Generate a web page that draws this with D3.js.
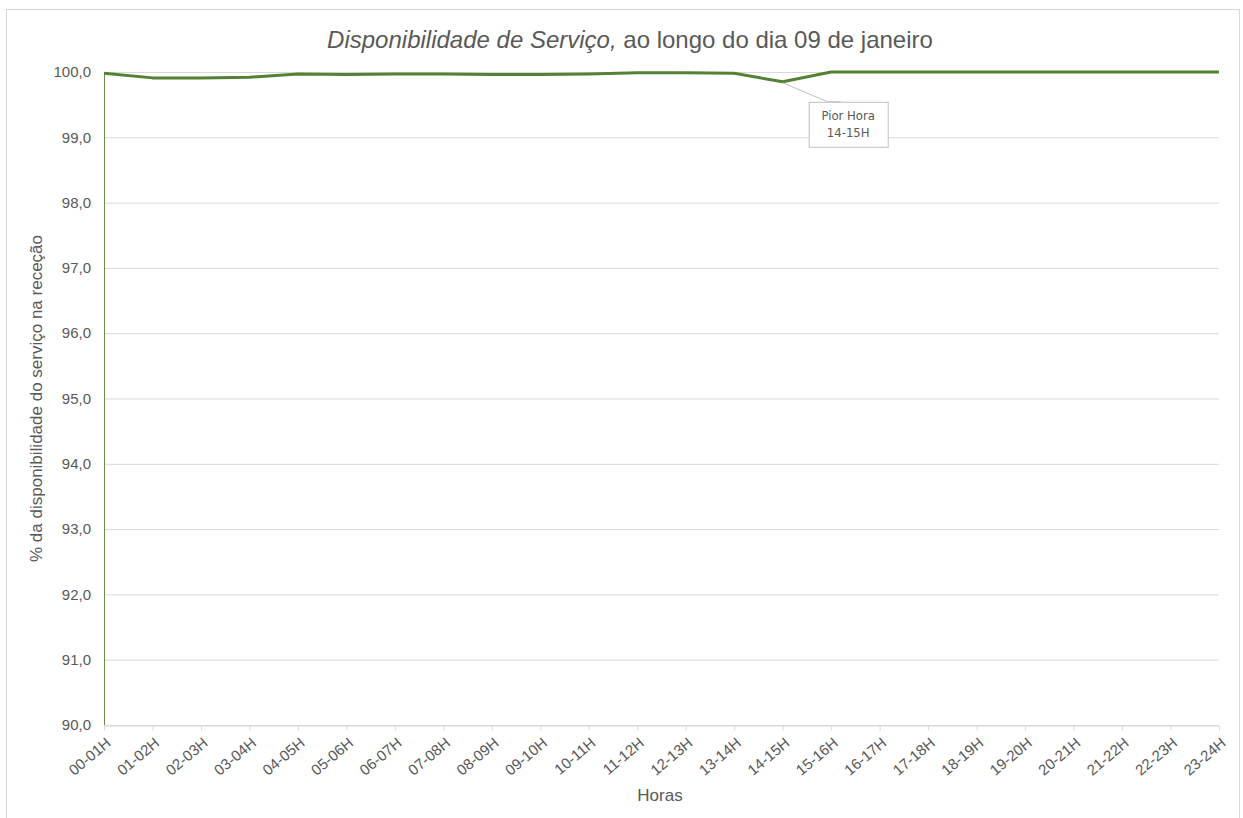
<!DOCTYPE html>
<html>
<head>
<meta charset="utf-8">
<script src="https://cdn.jsdelivr.net/npm/d3@7"></script>
<style>
  body { margin: 0; background: #fff; }
  text { font-family: Arial, "Liberation Sans", sans-serif; fill: #595959; }
</style>
</head>
<body>
<svg id="chart"></svg>
<script>
// Data
const hours = ["00-01H","01-02H","02-03H","03-04H","04-05H","05-06H","06-07H","07-08H",
  "08-09H","09-10H","10-11H","11-12H","12-13H","13-14H","14-15H","15-16H","16-17H",
  "17-18H","18-19H","19-20H","20-21H","21-22H","22-23H","23-24H"];
const availability = [99.98, 99.91, 99.91, 99.92, 99.97, 99.96, 99.97, 99.97, 99.96, 99.96,
  99.97, 99.99, 99.99, 99.98, 99.85, 100.0, 100.0, 100.0, 100.0, 100.0, 100.0, 100.0, 100.0, 100.0];
const yTicks = [90, 91, 92, 93, 94, 95, 96, 97, 98, 99, 100];
const worstLabel = ["Pior Hora", "14-15H"];

const width = 1243, height = 818;
const margin = { left: 104, right: 24, top: 72, bottom: 93 };

const svg = d3.select("#chart")
    .attr("width", width)
    .attr("height", height);

// Outer chart frame
svg.append("rect")
    .attr("x", 6.5).attr("y", 9.5)
    .attr("width", 1233).attr("height", 830)
    .attr("fill", "none")
    .attr("stroke", "#d9d9d9");

const x = d3.scalePoint()
    .domain(hours)
    .range([margin.left, width - margin.right]);

const y = d3.scaleLinear()
    .domain([90, 100])
    .range([height - margin.bottom, margin.top]);

// Gridlines
svg.append("g")
    .selectAll("line")
    .data(yTicks)
    .join("line")
    .attr("x1", margin.left)
    .attr("x2", width - margin.right)
    .attr("y1", d => y(d) + 0.5)
    .attr("y2", d => y(d) + 0.5)
    .attr("stroke", "#d9d9d9");

// Y axis labels
svg.append("g")
    .selectAll("text")
    .data(yTicks)
    .join("text")
    .attr("x", margin.left - 13)
    .attr("y", d => y(d))
    .attr("dy", "0.35em")
    .attr("text-anchor", "end")
    .style("font-size", "15px")
    .text(d => d.toFixed(1).replace(".", ","));

// X axis with ticks below
const xAxis = svg.append("g")
    .attr("transform", `translate(0,${y(90) + 0.5})`)
    .call(d3.axisBottom(x).tickSize(5).tickSizeOuter(0));
xAxis.select(".domain").attr("stroke", "#d9d9d9");
xAxis.selectAll(".tick line").attr("stroke", "#d9d9d9");
xAxis.selectAll(".tick text")
    .attr("transform", "translate(4,15) rotate(-40)")
    .attr("text-anchor", "end")
    .attr("dy", "0.35em")
    .attr("y", 0).attr("x", 0)
    .style("font-size", "15px")
    .style("font-family", "Arial, 'Liberation Sans', sans-serif")
    .attr("fill", "#595959");

// Vertical axis line
svg.append("line")
    .attr("x1", margin.left + 0.5).attr("x2", margin.left + 0.5)
    .attr("y1", y(100)).attr("y2", y(90))
    .attr("stroke", "#6f8a4a")
    .attr("stroke-width", 1);

// Series line
const line = d3.line()
    .x((d, i) => x(hours[i]))
    .y(d => y(d));

svg.append("path")
    .datum(availability)
    .attr("d", line)
    .attr("fill", "none")
    .attr("stroke", "#548235")
    .attr("stroke-width", 3)
    .attr("stroke-linejoin", "round");

// Worst hour callout
const worstIdx = availability.indexOf(d3.min(availability));
const px = x(hours[worstIdx]), py = y(availability[worstIdx]);
const box = { x: px + 26, y: py + 20, w: 79, h: 45 };

svg.append("path")
    .attr("d", `M${px},${py + 1} L${box.x + 19},${box.y} L${box.x + 32},${box.y}`)
    .attr("fill", "none")
    .attr("stroke", "#bfbfbf");

svg.append("rect")
    .attr("x", box.x + 0.5).attr("y", box.y + 0.5)
    .attr("width", box.w).attr("height", box.h)
    .attr("fill", "#fff")
    .attr("stroke", "#bfbfbf");

svg.append("g")
    .selectAll("text")
    .data(worstLabel)
    .join("text")
    .attr("x", box.x + box.w / 2)
    .attr("y", (d, i) => box.y + 18 + i * 17)
    .attr("text-anchor", "middle")
    .style("font-family", "'Liberation Sans Narrow', 'DejaVu Sans Condensed', sans-serif")
    .style("font-size", "13px")
    .text(d => d);

// Title
const title = svg.append("text")
    .attr("x", 630)
    .attr("y", 48)
    .attr("text-anchor", "middle")
    .style("font-size", "24px");
title.append("tspan").style("font-style", "italic").text("Disponibilidade de Serviço,");
title.append("tspan").text(" ao longo do dia 09 de janeiro");

// Axis titles
svg.append("text")
    .attr("x", 660)
    .attr("y", 801)
    .attr("text-anchor", "middle")
    .style("font-size", "17px")
    .text("Horas");

svg.append("text")
    .attr("transform", `translate(42,${(y(90) + y(100)) / 2}) rotate(-90)`)
    .attr("text-anchor", "middle")
    .style("font-size", "17px")
    .text("% da disponibilidade do serviço na receção");
</script>
</body>
</html>
